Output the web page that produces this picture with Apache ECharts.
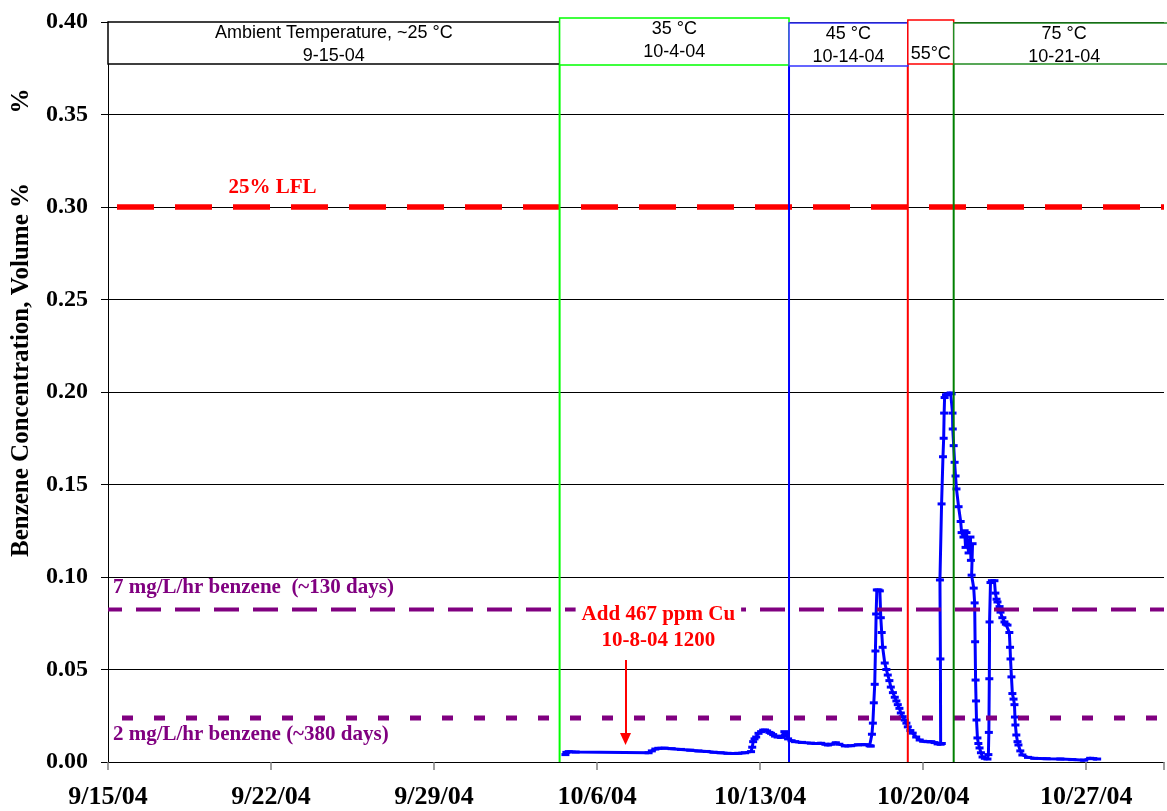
<!DOCTYPE html>
<html>
<head>
<meta charset="utf-8">
<script src="https://cdn.jsdelivr.net/npm/echarts@6/dist/echarts.min.js"></script>
<style>
    html, body { margin: 0; padding: 0; background: #fff; }
    #chart { width: 1167px; height: 811px; }
</style>
</head>
<body>
<div id="chart"></div>
<script>
// x values are days since 9/15/04
const xTickLabels = ["9/15/04", "9/22/04", "9/29/04", "10/6/04", "10/13/04", "10/20/04", "10/27/04"];

const benzene = [
    [19.64, 0.0040], [19.68, 0.0052], [19.78, 0.0056], [20.08, 0.0054], [23.21, 0.0050],
    [23.35, 0.0060], [23.50, 0.0070], [23.63, 0.0074], [23.90, 0.0075], [24.20, 0.0072],
    [24.60, 0.0068], [25.00, 0.0064], [25.35, 0.0060], [25.70, 0.0057], [26.00, 0.0053],
    [26.30, 0.0050], [26.60, 0.0047], [26.90, 0.0046], [27.06, 0.0047], [27.35, 0.0050],
    [27.61, 0.0056], [27.66, 0.0080], [27.70, 0.0110], [27.76, 0.0125], [27.83, 0.0135],
    [27.93, 0.0155], [28.04, 0.0164], [28.13, 0.0172], [28.21, 0.0173], [28.30, 0.0168],
    [28.40, 0.0160], [28.47, 0.0155], [28.56, 0.0148], [28.64, 0.0140], [28.75, 0.0135],
    [28.90, 0.0133], [28.98, 0.0140], [29.04, 0.0164], [29.10, 0.0150], [29.20, 0.0125],
    [29.35, 0.0115], [29.50, 0.0110], [29.80, 0.0106], [30.18, 0.0102], [30.40, 0.0100],
    [30.61, 0.0101], [30.80, 0.0096], [30.91, 0.0092], [31.05, 0.0096], [31.25, 0.0104],
    [31.40, 0.0096], [31.64, 0.0087], [31.90, 0.0088], [32.20, 0.0093], [32.50, 0.0094],
    [32.70, 0.0088], [32.75, 0.0086], [32.80, 0.0150], [32.84, 0.0210], [32.88, 0.0320],
    [32.92, 0.0420], [32.95, 0.0600], [32.98, 0.0800], [33.01, 0.0930], [33.08, 0.0930],
    [33.14, 0.0925], [33.18, 0.0780], [33.22, 0.0700], [33.26, 0.0620], [33.35, 0.0535],
    [33.42, 0.0500], [33.48, 0.0470], [33.55, 0.0440], [33.61, 0.0405], [33.70, 0.0375],
    [33.78, 0.0350], [33.85, 0.0330], [33.91, 0.0310], [33.98, 0.0290], [34.04, 0.0265],
    [34.12, 0.0245], [34.21, 0.0227], [34.28, 0.0210], [34.34, 0.0190], [34.45, 0.0170],
    [34.55, 0.0156], [34.70, 0.0135], [34.85, 0.0119], [35.00, 0.0112], [35.19, 0.0110],
    [35.35, 0.0110], [35.49, 0.0105], [35.62, 0.0098], [35.75, 0.0096], [35.80, 0.0100],
    [35.74, 0.0557], [35.72, 0.0984], [35.79, 0.1395], [35.85, 0.1650], [35.88, 0.1750],
    [35.90, 0.1886], [35.92, 0.1970], [35.98, 0.1985], [36.05, 0.1990], [36.18, 0.1995],
    [36.22, 0.1990], [36.26, 0.1886], [36.27, 0.1800], [36.31, 0.1710], [36.35, 0.1620],
    [36.39, 0.1546], [36.43, 0.1476], [36.52, 0.1380], [36.61, 0.1300], [36.65, 0.1240],
    [36.73, 0.1216], [36.78, 0.1250], [36.82, 0.1160], [36.86, 0.1240], [36.95, 0.1130],
    [37.03, 0.1216], [37.05, 0.1090], [37.12, 0.1180], [37.08, 0.1010], [37.17, 0.0940],
    [37.21, 0.0860], [37.23, 0.0650], [37.25, 0.0443], [37.27, 0.0330], [37.29, 0.0227],
    [37.33, 0.0130], [37.37, 0.0100], [37.42, 0.0076], [37.48, 0.0050], [37.55, 0.0027],
    [37.65, 0.0020], [37.76, 0.0016], [37.80, 0.0040], [37.82, 0.0160], [37.84, 0.0450],
    [37.85, 0.0757], [37.89, 0.0970], [37.95, 0.0980], [38.06, 0.0980], [38.10, 0.0913],
    [38.15, 0.0880], [38.19, 0.0865], [38.28, 0.0840], [38.32, 0.0810], [38.40, 0.0780],
    [38.49, 0.0757], [38.55, 0.0745], [38.62, 0.0740], [38.70, 0.0700], [38.73, 0.0620],
    [38.75, 0.0557], [38.79, 0.0460], [38.83, 0.0370], [38.88, 0.0340], [38.92, 0.0310],
    [38.94, 0.0243], [38.96, 0.0200], [39.00, 0.0146], [39.05, 0.0110], [39.09, 0.0092],
    [39.17, 0.0060], [39.26, 0.0038], [39.50, 0.0025], [39.77, 0.0020], [40.30, 0.0018],
    [40.89, 0.0016], [41.40, 0.0013], [41.91, 0.0010], [42.17, 0.0020], [42.30, 0.0018],
    [42.47, 0.0016]
];

// temperature change lines and boxes
const stepDays = [19.39, 29.24, 34.34, 36.31];
const stepColors = ["#00ff00", "#0000ff", "#ff0000", "#008000"];

const boxStart = [0, 19.39, 29.24, 34.34, 36.31];
const boxEnd = [19.39, 29.24, 34.34, 36.31, 45.8];
const boxTop = [0.4000, 0.4022, 0.3995, 0.4011, 0.3995];
const boxBottom = [0.3773, 0.3768, 0.3762, 0.3773, 0.3773];
const boxLine1 = ["Ambient Temperature, ~25 °C", "35 °C", "45 °C", "", "75 °C"];
const boxLine2 = ["9-15-04", "10-4-04", "10-14-04", "55°C", "10-21-04"];
const boxColors = ["#000000", "#00ff00", "#3333ff", "#ff0000", "#228b22"];

// reference levels
const lflLevel = 0.30;
const rate7Level = 0.0825;
const rate2Level = 0.0238;

const noteText = ["25% LFL", "7 mg/L/hr benzene  (~130 days)", "2 mg/L/hr benzene (~380 days)", "Add 467 ppm Cu\n10-8-04 1200"];
const notePos = [[7.06, 0.3103], [0.21, 0.0941], [0.21, 0.0146], [23.63, 0.0724]];
const noteColors = ["#ff0000", "#800080", "#800080", "#ff0000"];
const noteAlign = ["center", "left", "left", "center"];

const arrowFrom = [22.22, 0.0551];
const arrowTo = [22.22, 0.0124];

const xMax = 45.34;

let chart = echarts.init(document.getElementById("chart"));

function hLine(level, color, width, dash, offset) {
    return {
        type: "line",
        data: [[0, level], [xMax, level]],
        symbol: "none",
        silent: true,
        lineStyle: { color: color, width: width, type: dash, dashOffset: offset },
        z: 3,
    };
}

let series = [
    {
        type: "line",
        data: benzene,
        symbol: "rect",
        symbolSize: [8, 3],
        showAllSymbol: true,
        itemStyle: { color: "#0000ff" },
        lineStyle: { color: "#0000ff", width: 3 },
        z: 2,
    },
    hLine(lflLevel, "#ff0000", 5.5, [37, 21], 49),
    hLine(rate7Level, "#800080", 4, [25, 14], 11),
    hLine(rate2Level, "#800080", 5, [11, 21], 18),
];

stepDays.forEach((d, i) => {
    series.push({
        type: "line",
        data: [[d, 0], [d, 0.4]],
        symbol: "none",
        silent: true,
        lineStyle: { color: stepColors[i], width: 2 },
        z: 4,
    });
});

series.push({
    type: "custom",
    clip: false,
    silent: true,
    z: 5,
    encode: { x: [0, 1], y: [2, 3] },
    data: boxStart.map((s, i) => [s, boxEnd[i], boxTop[i], boxBottom[i]]),
    renderItem: function (params, api) {
        let i = params.dataIndex;
        let p1 = api.coord([api.value(0), api.value(2)]);
        let p2 = api.coord([api.value(1), api.value(3)]);
        let cx = (p1[0] + p2[0]) / 2;
        let font = '18px "Liberation Sans"';
        return {
            type: "group",
            children: [
                {
                    type: "rect",
                    shape: { x: p1[0], y: p1[1], width: p2[0] - p1[0], height: p2[1] - p1[1] },
                    style: { fill: "#fff", stroke: boxColors[i], lineWidth: 1.5 },
                },
                {
                    type: "text",
                    x: cx, y: p1[1] + 11.5,
                    style: { text: boxLine1[i], font: font, fill: "#000", align: "center", verticalAlign: "middle" },
                },
                {
                    type: "text",
                    x: cx, y: p1[1] + 34,
                    style: { text: boxLine2[i], font: font, fill: "#000", align: "center", verticalAlign: "middle" },
                },
            ],
        };
    },
});

series.push({
    type: "scatter",
    symbolSize: 0,
    silent: true,
    z: 6,
    itemStyle: { opacity: 1 },
    data: notePos.map((p, i) => ({
        value: p,
        label: {
            show: true,
            position: [0, 0],
            formatter: noteText[i],
            color: noteColors[i],
            align: noteAlign[i],
            verticalAlign: "middle",
            fontFamily: "Liberation Serif",
            fontWeight: "bold",
            fontSize: 21,
            lineHeight: 26,
            backgroundColor: i === 3 ? "#ffffff" : "transparent",
            padding: i === 3 ? [8, 6, 2, 6] : 0,
        },
    })),
});

series.push({
    type: "line",
    data: [],
    silent: true,
    z: 6,
    markLine: {
        silent: true,
        symbol: ["none", "triangle"],
        symbolSize: [11, 12],
        label: { show: false },
        lineStyle: { color: "#ff0000", width: 2, type: "solid" },
        data: [[{ coord: arrowFrom }, { coord: arrowTo }]],
    },
});

let options = {
    animation: false,
    backgroundColor: "#fff",
    grid: { left: 108, right: 0, top: 22, bottom: 49, containLabel: false },
    xAxis: {
        type: "value",
        min: 0,
        max: xMax,
        interval: 7,
        axisLine: { show: true, onZero: false, lineStyle: { color: "#000", width: 1 } },
        axisTick: { show: true, length: 8, lineStyle: { color: "#808080", width: 1.5 } },
        splitLine: { show: false },
        axisLabel: {
            margin: 22,
            color: "#000",
            fontFamily: "Liberation Serif",
            fontWeight: "bold",
            fontSize: 26,
            formatter: function (v) {
                let k = Math.round(v / 7);
                return Math.abs(v - k * 7) < 1e-6 ? xTickLabels[k] || "" : "";
            },
        },
    },
    yAxis: {
        type: "value",
        min: 0,
        max: 0.4,
        interval: 0.05,
        axisLine: { show: true, lineStyle: { color: "#000", width: 1 } },
        axisTick: { show: true, length: 7, lineStyle: { color: "#000" } },
        splitLine: { show: true, lineStyle: { color: "#000", width: 1 } },
        axisLabel: {
            margin: 20,
            color: "#000",
            fontFamily: "Liberation Serif",
            fontWeight: "bold",
            fontSize: 24,
            formatter: (v) => v.toFixed(2),
        },
    },
    graphic: [
        {
            type: "text",
            x: 22, y: 370,
            rotation: Math.PI / 2,
            style: {
                text: "Benzene Concentration, Volume %",
                font: 'bold 25px "Liberation Serif"',
                fill: "#000",
                align: "center",
                verticalAlign: "middle",
            },
        },
        {
            type: "text",
            x: 22, y: 101,
            rotation: Math.PI / 2,
            style: {
                text: "%",
                font: 'bold 25px "Liberation Serif"',
                fill: "#000",
                align: "center",
                verticalAlign: "middle",
            },
        },
    ],
    series: series,
};

chart.setOption(options);
</script>
</body>
</html>
